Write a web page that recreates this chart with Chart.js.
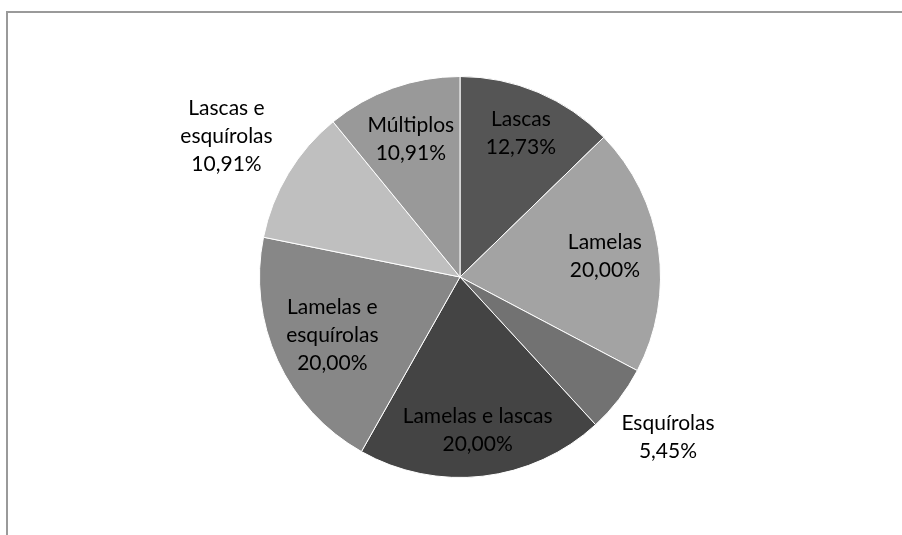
<!DOCTYPE html>
<html>
<head>
<meta charset="utf-8">
<script src="https://cdn.jsdelivr.net/npm/chart.js@4"></script>
<style>
  body { margin: 0; background: #fff; overflow: hidden; }
  #wrap { position: relative; width: 902px; height: 535px; }
  #frame {
    position: absolute; left: 6px; top: 11px; width: 1000px; height: 1000px;
    border-left: 2px solid #9a9a9a; border-top: 2px solid #9a9a9a;
  }
  canvas { position: absolute; left: 0; top: 0; }
</style>
</head>
<body>
<div id="wrap">
  <div id="frame"></div>
  <canvas id="myChart" width="902" height="535"></canvas>
</div>
<script>
const categories = [
  "Lascas",
  "Lamelas",
  "Esquírolas",
  "Lamelas e lascas",
  "Lamelas e esquírolas",
  "Lascas e esquírolas",
  "Múltiplos",
];
const percentages = [12.73, 20.0, 5.45, 20.0, 20.0, 10.91, 10.91];
const labelLines = [
  ["Lascas"],
  ["Lamelas"],
  ["Esquírolas"],
  ["Lamelas e lascas"],
  ["Lamelas e", "esquírolas"],
  ["Lascas e", "esquírolas"],
  ["Múltiplos"],
];
const sliceColors = ["#555555", "#a3a3a3", "#727272", "#444444", "#878787", "#bfbfbf", "#999999"];
// how far out each label sits, as a fraction of the radius
const labelRadius = [0.78, 0.73, 1.31, 0.77, 0.70, 1.36, 0.73];

const fmt = (v) => v.toFixed(2).replace(".", ",") + "%";

const pieLabels = {
  id: "pieLabels",
  afterDatasetsDraw(chart) {
    const ctx = chart.ctx;
    const meta = chart.getDatasetMeta(0);
    ctx.save();
    ctx.font = '21px Lato, "Open Sans", sans-serif';
    ctx.fillStyle = "#000";
    ctx.textAlign = "center";
    ctx.textBaseline = "middle";
    const lh = 28;
    meta.data.forEach((arc, i) => {
      const p = arc.getProps(["x", "y", "startAngle", "endAngle", "outerRadius"], true);
      const mid = (p.startAngle + p.endAngle) / 2;
      const r = p.outerRadius * labelRadius[i];
      const cx = p.x + Math.cos(mid) * r;
      const cy = p.y + Math.sin(mid) * r;
      const lines = labelLines[i].concat([fmt(percentages[i])]);
      const y0 = cy - ((lines.length - 1) * lh) / 2;
      lines.forEach((t, j) => ctx.fillText(t, cx, y0 + j * lh));
    });
    ctx.restore();
  },
};

new Chart(document.getElementById("myChart"), {
  type: "pie",
  data: {
    labels: categories,
    datasets: [
      {
        data: percentages,
        backgroundColor: sliceColors,
        borderColor: "#ffffff",
        borderWidth: 1,
      },
    ],
  },
  options: {
    responsive: false,
    animation: false,
    layout: { padding: { top: 76, bottom: 57, left: 259, right: 241 } },
    plugins: {
      legend: { display: false },
      tooltip: { enabled: false },
    },
  },
  plugins: [pieLabels],
});
</script>
</body>
</html>
